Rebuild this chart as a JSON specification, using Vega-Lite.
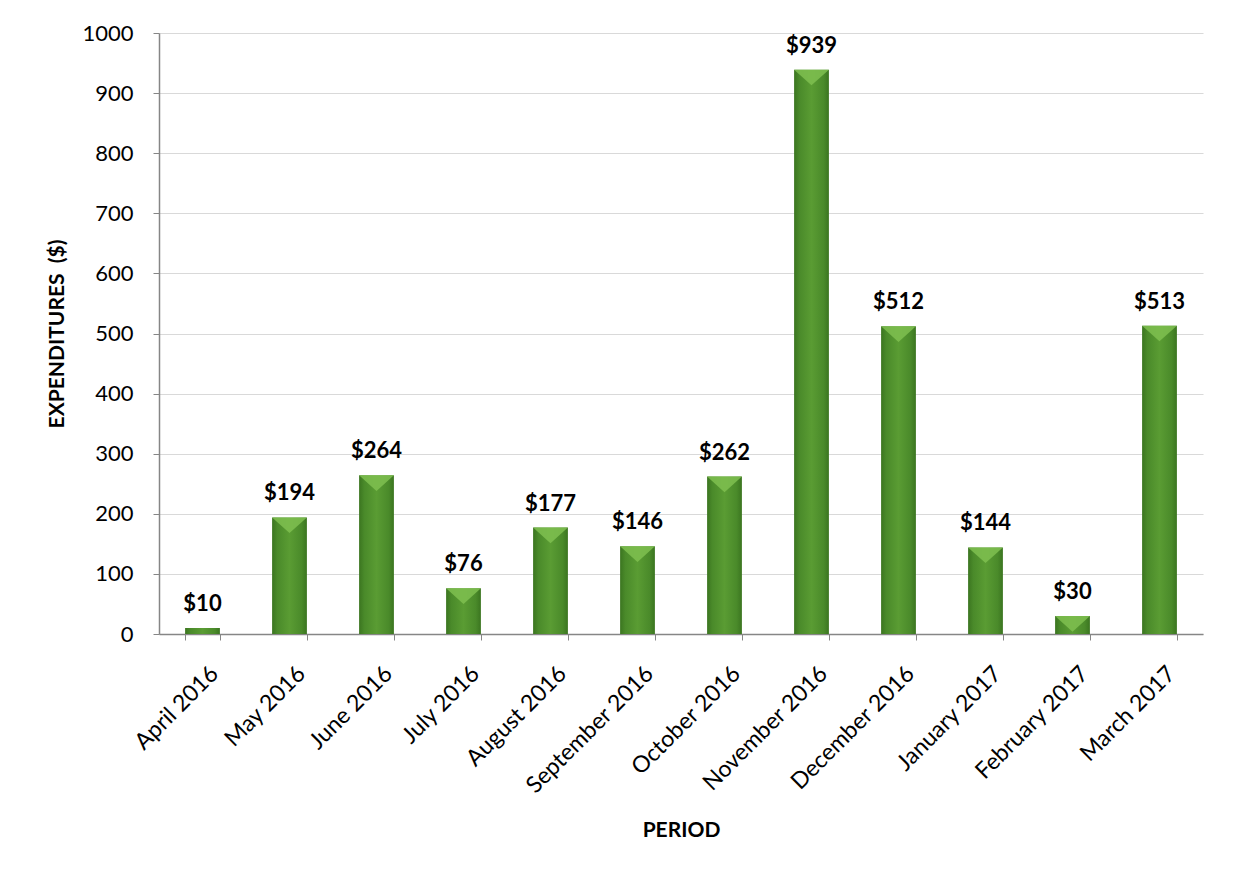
{
  "$schema": "https://vega.github.io/schema/vega-lite/v6.json",
  "width": 1044,
  "height": 601,
  "autosize": {"type": "none"},
  "padding": {"left": 159, "top": 33, "right": 30, "bottom": 238},
  "background": "white",
  "config": {
    "font": "Lato",
    "view": {"stroke": null},
    "axis": {"labelFont": "Lato", "titleFont": "Lato", "labelColor": "#000000", "titleColor": "#000000"}
  },
  "data": {
    "values": [
      {"period": "April 2016", "value": 10},
      {"period": "May 2016", "value": 194},
      {"period": "June 2016", "value": 264},
      {"period": "July 2016", "value": 76},
      {"period": "August 2016", "value": 177},
      {"period": "September 2016", "value": 146},
      {"period": "October 2016", "value": 262},
      {"period": "November 2016", "value": 939},
      {"period": "December 2016", "value": 512},
      {"period": "January 2017", "value": 144},
      {"period": "February 2017", "value": 30},
      {"period": "March 2017", "value": 513}
    ]
  },
  "encoding": {
    "x": {
      "field": "period",
      "type": "nominal",
      "sort": null,
      "scale": {"paddingInner": 0.6, "paddingOuter": 0.3},
      "axis": {
        "title": "PERIOD",
        "titleFontSize": 21,
        "titleFontWeight": "bold",
        "titlePadding": 22,
        "labelAngle": -45,
        "labelFontSize": 23,
        "labelPadding": 22,
        "labelOffset": 4,
        "tickBand": "extent",
        "tickSize": 6,
        "tickColor": "#868686",
        "domainColor": "#868686",
        "domainWidth": 1.5,
        "grid": false
      }
    },
    "y": {
      "field": "value",
      "type": "quantitative",
      "scale": {"domain": [0, 1000]},
      "axis": {
        "title": "EXPENDITURES\u00a0\u00a0($)",
        "titleFontSize": 21,
        "titleFontWeight": "bold",
        "titlePadding": 14,
        "values": [0, 100, 200, 300, 400, 500, 600, 700, 800, 900, 1000],
        "format": "d",
        "labelFontSize": 22,
        "labelPadding": 20,
        "tickSize": 6,
        "tickColor": "#868686",
        "domainColor": "#868686",
        "domainWidth": 1.5,
        "gridColor": "#d9d9d9",
        "gridWidth": 1.2
      }
    }
  },
  "layer": [
    {
      "mark": {
        "type": "bar",
        "color": {
          "gradient": "linear",
          "x1": 0, "x2": 1, "y1": 0, "y2": 0,
          "stops": [
            {"offset": 0, "color": "#3b7520"},
            {"offset": 0.15, "color": "#4a8a2a"},
            {"offset": 0.5, "color": "#5a9c33"},
            {"offset": 0.85, "color": "#4a8a2a"},
            {"offset": 1, "color": "#3b7520"}
          ]
        }
      }
    },
    {
      "transform": [{"filter": "datum.value >= 30"}],
      "mark": {
        "type": "point",
        "shape": "M -1 0 L 1 0 L 0 0.9 Z",
        "size": 1211,
        "filled": true,
        "color": "#7fc050",
        "opacity": 0.85
      }
    },
    {
      "mark": {
        "type": "text",
        "fontSize": 22,
        "fontWeight": "bold",
        "baseline": "alphabetic",
        "dy": -17,
        "color": "#000000"
      },
      "encoding": {
        "text": {"field": "value", "type": "quantitative", "format": "$d"}
      }
    }
  ]
}
